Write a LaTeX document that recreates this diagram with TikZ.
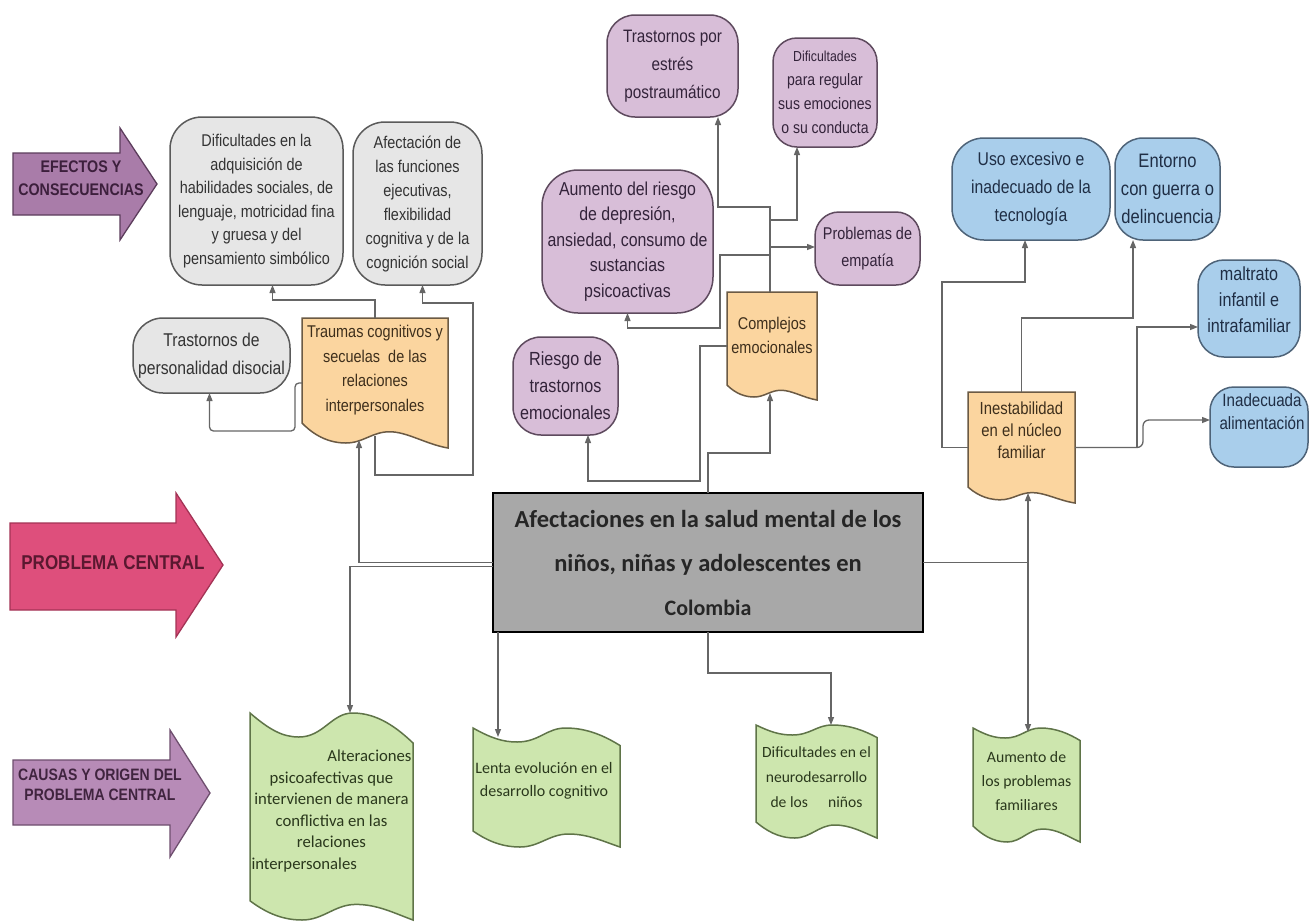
\documentclass[tikz,border=0pt]{standalone}
\usepackage{fontspec}
\setmainfont{Liberation Sans}[FakeStretch=0.85]
\newfontfamily\calibri{Carlito}
\usetikzlibrary{arrows.meta,calc,backgrounds}

\definecolor{lineC}{HTML}{666666}
\definecolor{grayF}{HTML}{E6E6E6}\definecolor{grayD}{HTML}{5A5A5A}\definecolor{grayT}{HTML}{333333}
\definecolor{purF}{HTML}{D8BED8}\definecolor{purD}{HTML}{5E4A5E}\definecolor{purT}{HTML}{33233A}
\definecolor{bluF}{HTML}{A9CEEB}\definecolor{bluD}{HTML}{4E6378}\definecolor{bluT}{HTML}{1F2E45}
\definecolor{oraF}{HTML}{FBD59F}\definecolor{oraD}{HTML}{6B5A44}\definecolor{oraT}{HTML}{3E2F1C}
\definecolor{grnF}{HTML}{CDE6AE}\definecolor{grnD}{HTML}{5F7448}\definecolor{grnT}{HTML}{2A381C}
\definecolor{cenF}{HTML}{A8A8A8}
\definecolor{efF}{HTML}{A97CA9}\definecolor{efD}{HTML}{5C3D5C}\definecolor{efT}{HTML}{3C1F3C}
\definecolor{prF}{HTML}{DE4F7C}\definecolor{prD}{HTML}{A33355}\definecolor{prT}{HTML}{5A1830}
\definecolor{caF}{HTML}{B78BB7}\definecolor{caD}{HTML}{6E4E6E}\definecolor{caT}{HTML}{40243F}

\newcommand\setfs[2]{\fontsize{#1}{#2}\selectfont}

% document shape: name, wave depth, style
\newcommand\docshape[3]{%
 \begin{pgfonlayer}{background}
 \path[#3] (#1.north west) -- (#1.north east) -- (#1.south east)
  .. controls ($(#1.south west)!0.85!(#1.south east)+(0,{0.15*#2})$) and ($(#1.south west)!0.72!(#1.south east)+(0,{0.65*#2})$) .. ($(#1.south west)!0.6!(#1.south east)+(0,{0.65*#2})$)
  .. controls ($(#1.south west)!0.48!(#1.south east)+(0,{0.65*#2})$) and ($(#1.south west)!0.42!(#1.south east)+(0,{0.2*#2})$) .. ($(#1.south west)!0.3!(#1.south east)+(0,{0.2*#2})$)
  .. controls ($(#1.south west)!0.15!(#1.south east)+(0,{0.2*#2})$) and ($(#1.south west)!0.05!(#1.south east)+(0,{0.7*#2})$) .. ($(#1.south west)+(0,#2)$)
  -- cycle;
 \end{pgfonlayer}}

% tape shape: name, top amplitude, bottom amplitude, style
\newcommand\tapeshape[4]{%
 \begin{pgfonlayer}{background}
 \path[#4] (#1.north west)
  .. controls ($(#1.north west)!0.12!(#1.north east)+(0,{-1.4*#2})$) and ($(#1.north west)!0.2!(#1.north east)+(0,{-2*#2})$) .. ($(#1.north west)!0.3!(#1.north east)+(0,{-2*#2})$)
  .. controls ($(#1.north west)!0.45!(#1.north east)+(0,{-2*#2})$) and ($(#1.north west)!0.5!(#1.north east)$) .. ($(#1.north west)!0.63!(#1.north east)$)
  .. controls ($(#1.north west)!0.78!(#1.north east)$) and ($(#1.north west)!0.9!(#1.north east)+(0,{-1.2*#2})$) .. ($(#1.north east)+(0,{-2.5*#2})$)
  -- (#1.south east)
  .. controls ($(#1.south west)!0.88!(#1.south east)+(0,{0.6*#3})$) and ($(#1.south west)!0.78!(#1.south east)+(0,{1.3*#3})$) .. ($(#1.south west)!0.65!(#1.south east)+(0,{1.3*#3})$)
  .. controls ($(#1.south west)!0.52!(#1.south east)+(0,{1.3*#3})$) and ($(#1.south west)!0.45!(#1.south east)$) .. ($(#1.south west)!0.32!(#1.south east)$)
  .. controls ($(#1.south west)!0.18!(#1.south east)$) and ($(#1.south west)!0.08!(#1.south east)+(0,{0.8*#3})$) .. ($(#1.south west)+(0,{1.6*#3})$)
  -- cycle;
 \end{pgfonlayer}}

\begin{document}
\begin{tikzpicture}[x=1pt,y=1pt,
  conn/.style={draw=lineC, line width=1.3pt, -{Triangle[length=8pt,width=6pt]}},
  nbase/.style={inner sep=0pt, outer sep=0pt, align=center, line width=1.5pt},
  gbox/.style={nbase, draw=grayD, fill=grayF, text=grayT, rounded corners=#1},
  gbox/.default=32pt,
  pbox/.style={nbase, draw=purD, fill=purF, text=purT, rounded corners=#1},
  pbox/.default=28pt,
  bbox/.style={nbase, draw=bluD, fill=bluF, text=bluT, rounded corners=#1},
  bbox/.default=28pt,
  holder/.style={inner sep=0pt, outer sep=0pt},
  otext/.style={inner sep=0pt, align=center, text=oraT},
  gtext/.style={inner sep=0pt, align=flush center, text=grnT},
  oshape/.style={draw=oraD, fill=oraF, line width=1.5pt},
  gshape/.style={draw=grnD, fill=grnF, line width=1.5pt},
  bigarrow/.style={line width=1.3pt, line join=miter},
  armtext/.style={inner sep=0pt, align=center}
]
\useasboundingbox (0,0) rectangle (1310,-922);
\begin{pgfonlayer}{background}
\fill[white] (0,0) rectangle (1310,-922);
\end{pgfonlayer}

% ---- side arrows
\draw[bigarrow, fill=efF, draw=efD] (13,-153) -- (120,-153) -- (120,-128) -- (157,-184) -- (120,-240) -- (120,-215) -- (13,-215) -- cycle;
\node[armtext, text=efT, font=\bfseries\setfs{16.8}{23}] (efectos) at (81,-178) {EFECTOS Y\\CONSECUENCIAS};
\draw[bigarrow, fill=prF, draw=prD] (10,-523) -- (176,-523) -- (176,-493) -- (223,-565) -- (176,-637) -- (176,-610) -- (10,-610) -- cycle;
\node[armtext, text=prT, font=\bfseries\setfs{20}{24}] (problema) at (113,-563) {PROBLEMA CENTRAL};
\draw[bigarrow, fill=caF, draw=caD] (13,-760) -- (170,-760) -- (170,-730) -- (210,-793) -- (170,-857) -- (170,-825) -- (13,-825) -- cycle;
\node[armtext, text=caT, font=\bfseries\setfs{16.5}{20}] (causas) at (100,-785) {CAUSAS Y ORIGEN DEL\\PROBLEMA CENTRAL};

% ---- gray effects
\node[gbox, minimum width=173pt, minimum height=168pt, font=\setfs{17}{23.5}] (g1) at (256.5,-201) {Dificultades en la\\adquisición de\\habilidades sociales, de\\lenguaje, motricidad fina\\y gruesa y del\\pensamiento simbólico};
\node[gbox, minimum width=129pt, minimum height=163pt, font=\setfs{17}{24}] (g2) at (417.5,-203.5) {Afectación de\\las funciones\\ejecutivas,\\flexibilidad\\cognitiva y de la\\cognición social};
\node[gbox=30pt, minimum width=157pt, minimum height=75pt, font=\setfs{18.5}{28}] (g3) at (211.5,-355.5) {Trastornos de\\personalidad disocial};

% ---- purple effects
\node[pbox, minimum width=131pt, minimum height=102pt, font=\setfs{18}{28}] (trast) at (672.5,-66) {Trastornos por\\estrés\\postraumático};
\node[pbox=24pt, minimum width=104pt, minimum height=109pt, font=\setfs{16.5}{24}] (difreg) at (825,-92.5) {{\setfs{14.5}{24}Dificultades}\\para regular\\sus emociones\\o su conducta};
\node[pbox=36pt, minimum width=171pt, minimum height=143pt, font=\setfs{18.7}{25.5}] (aumento) at (627.5,-241.5) {Aumento del riesgo\\de depresión,\\ansiedad, consumo de\\sustancias\\psicoactivas};
\node[pbox=24pt, minimum width=105pt, minimum height=73pt, font=\setfs{17}{27}] (empatia) at (867.5,-248.5) {Problemas de\\empatía};
\node[pbox=28pt, minimum width=105pt, minimum height=98pt, font=\setfs{19}{27}] (riesgo) at (565.5,-386) {Riesgo de\\trastornos\\emocionales};

% ---- blue effects
\node[bbox=32pt, minimum width=158pt, minimum height=102pt, font=\setfs{18.5}{28}] (uso) at (1031,-189) {Uso excesivo e\\inadecuado de la\\tecnología};
\node[bbox=28pt, minimum width=105pt, minimum height=102pt, font=\setfs{19.5}{28}] (entorno) at (1167.5,-189) {Entorno\\con guerra o\\delincuencia};
\node[bbox=26pt, minimum width=102pt, minimum height=97pt] (maltrato) at (1249,-308.5) {};
\node[armtext, text=bluT, font=\setfs{19}{26}] (maltratoT) at (1249,-300) {maltrato\\infantil e\\intrafamiliar};
\node[bbox=24pt, minimum width=98pt, minimum height=80pt] (inadec) at (1259,-427) {};
\node[armtext, text=bluT, font=\setfs{17.8}{23}] (inadecT) at (1262,-411.5) {Inadecuada\\alimentación};

% ---- orange intermediate (document shapes)
\node[holder, minimum width=146pt, minimum height=130pt] (traumas) at (375,-383) {};
\docshape{traumas}{25}{oshape}
\node[otext, font=\setfs{17}{24.5}] (traumasT) at (375,-370) {Traumas cognitivos y\\secuelas\ \ de las\\relaciones\\interpersonales};
\node[holder, minimum width=90pt, minimum height=108pt] (complejos) at (772,-346) {};
\docshape{complejos}{15}{oshape}
\node[otext, font=\setfs{17}{24}] (complejosT) at (772,-335) {Complejos\\emocionales};
\node[holder, minimum width=107pt, minimum height=111pt] (inest) at (1021.5,-447.5) {};
\docshape{inest}{16}{oshape}
\node[otext, font=\setfs{17.5}{22}] (inestT) at (1021.5,-430) {Inestabilidad\\en el núcleo\\familiar};

% ---- central problem
\node[nbase, draw=black, line width=2pt, fill=cenF, text=black!85, minimum width=430pt, minimum height=139pt, font=\calibri\bfseries\setfs{24.5}{44}] (central) at (708,-562.5) {Afectaciones en la salud mental de los\\niños, niñas y adolescentes en\\{\setfs{22}{40}Colombia}};

% ---- green causes (tape shapes)
\node[holder, minimum width=163pt, minimum height=207pt] (alter) at (331.5,-816.5) {};
\tapeshape{alter}{12}{12}{gshape}
\node[gtext, text width=160pt, font=\calibri\setfs{16.7}{21.5}] (alterT) at (331.5,-811) {\makebox[\linewidth][r]{Alteraciones}\\psicoafectivas que\\intervienen de manera\\conflictiva en las\\relaciones\\\makebox[\linewidth][l]{interpersonales}};
\node[holder, minimum width=147pt, minimum height=119pt] (lenta) at (546.5,-787.5) {};
\tapeshape{lenta}{7}{10}{gshape}
\node[gtext, font=\calibri\setfs{16}{23}] (lentaT) at (544,-781) {Lenta evolución en el\\desarrollo cognitivo};
\node[holder, minimum width=121pt, minimum height=113pt] (dific) at (816.5,-781.5) {};
\tapeshape{dific}{5}{10}{gshape}
\node[gtext, font=\calibri\setfs{15.6}{25}] (dificT) at (816.5,-777) {Dificultades en el\\neurodesarrollo\\de los\hspace{1.3em}niños};
\node[holder, minimum width=107pt, minimum height=114pt] (aumfam) at (1026.5,-785) {};
\tapeshape{aumfam}{5}{10}{gshape}
\node[gtext, font=\calibri\setfs{15.8}{24}] (aumfamT) at (1026.5,-781) {Aumento de\\los problemas\\familiares};

% ---- connectors: left cluster
\draw[conn] (traumas.north) -- ++(0,18) -| ([xshift=16pt]g1.south);
\draw[conn, rounded corners=4pt] (traumas.west) -- ++(-7,0) -- ++(0,-48) -| ([xshift=-2pt]g3.south);
\draw[conn] ([yshift=12pt]traumas.south) -- ++(0,-39) -- ++(98,0) -- ++(0,172) -| ([xshift=5pt]g2.south);
\draw[conn] (central.west) -| ([xshift=-16pt,yshift=8pt]traumas.south);
\draw[conn] ([yshift=-4pt]central.west) -| ([xshift=18.5pt]alter.north);
\draw[conn] ([xshift=5pt]central.south west) -- ([xshift=-48.5pt,yshift=-9pt]lenta.north);
\draw[conn] (central.south) -- ++(0,-41) -| ([xshift=14.5pt]dific.north);

% ---- connectors: middle cluster
\draw[conn] (central.north) -- ++(0,40) -| ([xshift=-2pt,yshift=7pt]complejos.south);
\draw[conn] ([xshift=-2pt]complejos.north) -- ++(0,85) -| ([xshift=45.5pt]trast.south);
\draw[conn] ([xshift=-2pt]complejos.north) -- ++(0,72) -| ([xshift=-28pt]difreg.south);
\draw[conn] ([xshift=-2pt]complejos.north) |- ([yshift=1.5pt]empatia.west);
\draw[conn] ([xshift=-2pt]complejos.north) -- ++(0,37) -- ++(-50,0) -- ++(0,-73) -| (aumento.south);
\draw[conn] (complejos.west) -- ++(-27,0) -- ++(0,-135) -| ([xshift=22.5pt]riesgo.south);

% ---- connectors: right cluster
\draw[conn] (central.east) -| ([xshift=1.5pt,yshift=-4pt]aumfam.north);
\draw[conn] (central.east) -| ([xshift=6.5pt,yshift=10pt]inest.south);
\draw[conn] (inest.west) -- ++(-26,0) -- ++(0,165.5) -| ([xshift=-6pt]uso.south);
\draw[conn] (inest.north) -- ++(0,74) -| ([xshift=-34.5pt]entorno.south);
\draw[conn] (inest.east) -| ([xshift=-61pt,yshift=-18.5pt]maltrato.west) -- ([yshift=-18.5pt]maltrato.west);
\draw[conn, rounded corners=6pt] (inest.east) -| ([xshift=-67pt,yshift=7pt]inadec.west) -- ([yshift=7pt]inadec.west);
\end{tikzpicture}
\end{document}
